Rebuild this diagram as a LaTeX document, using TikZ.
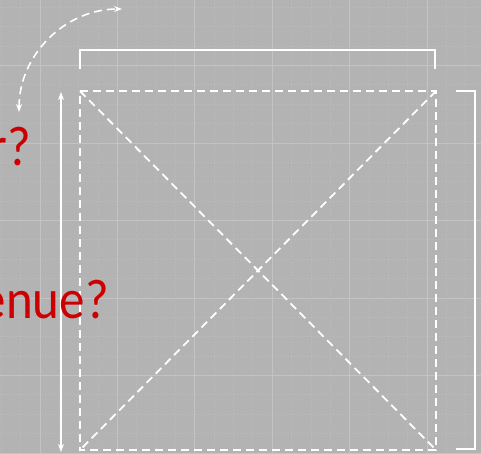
\documentclass[tikz,border=0pt]{standalone}
\usepackage{fontspec}
\newfontfamily\lblfont{Carlito}
\usetikzlibrary{arrows.meta}
\definecolor{bg}{HTML}{B3B3B3}
\definecolor{gridmaj}{HTML}{C3C3C3}
\definecolor{gridmin}{HTML}{BDBDBD}
\definecolor{redtxt}{HTML}{CC0000}
\tikzset{
  dsh/.style={draw=white, line width=1.8pt, dash pattern=on 8pt off 5pt},
  solidw/.style={draw=white, line width=2pt},
  tip/.style={{Stealth[length=8pt,width=6pt]}-{Stealth[length=8pt,width=6pt]}},
  lbl/.style={text=redtxt, inner sep=0pt, anchor=base east, font=\lblfont\fontsize{51}{56}\selectfont},
  majline/.style={draw=gridmaj, line width=1pt},
  minline/.style={draw=gridmin, line width=0.8pt, dash pattern=on 1pt off 2.2pt}
}
\begin{document}
\begin{tikzpicture}[x=1pt,y=-1pt]
\useasboundingbox (0,0) rectangle (481,453);
\clip (0,0) rectangle (481,453);
\fill[bg] (0,0) rectangle (481,453);
% minor grid
\foreach \k in {-2,...,24} {
  \draw[minline] ({40+19.35*\k},0) -- ({40+19.35*\k},453);
}
\foreach \k in {-4,...,20} {
  \draw[minline] (0,{65.5+19.375*\k}) -- (481,{65.5+19.375*\k});
}
% major grid
\foreach \k in {-1,...,6} {
  \draw[majline] ({40+77.4*\k},0) -- ({40+77.4*\k},453);
}
\foreach \k in {-1,...,5} {
  \draw[majline] (0,{65.5+77.5*\k}) -- (481,{65.5+77.5*\k});
}
% square with diagonals
\coordinate (tl) at (80,91);
\coordinate (tr) at (436,91);
\coordinate (bl) at (80,450);
\coordinate (br) at (436,450);
\draw[dsh] (tl) -- (tr) -- (br) -- (bl) -- cycle;
\draw[dsh] (tl) -- (br);
\draw[dsh] (tr) -- (bl);
% top bracket
\coordinate (tb1) at (80,69);
\coordinate (tb2) at (80,50);
\coordinate (tb3) at (435,50);
\coordinate (tb4) at (435,69);
\draw[solidw] (tb1) -- (tb2) -- (tb3) -- (tb4);
% right bracket
\coordinate (rb1) at (456,91);
\coordinate (rb2) at (475,91);
\coordinate (rb3) at (475,449);
\coordinate (rb4) at (456,449);
\draw[solidw] (rb1) -- (rb2) -- (rb3) -- (rb4);
% left arrow
\coordinate (la1) at (61,92);
\coordinate (la2) at (61,452);
\draw[solidw, line width=1.6pt, tip] (la1) -- (la2);
% curved arrow
\coordinate (ca1) at (19,112);
\draw[dsh, line width=1.6pt, tip] (ca1) arc[start angle=180, end angle=270, radius=103];
% labels
\node[lbl, yscale=1.1] (t1) at (31,165) {r?};
\node[lbl, yscale=1.1] (t2) at (109,318) {enue?};
\end{tikzpicture}
\end{document}
